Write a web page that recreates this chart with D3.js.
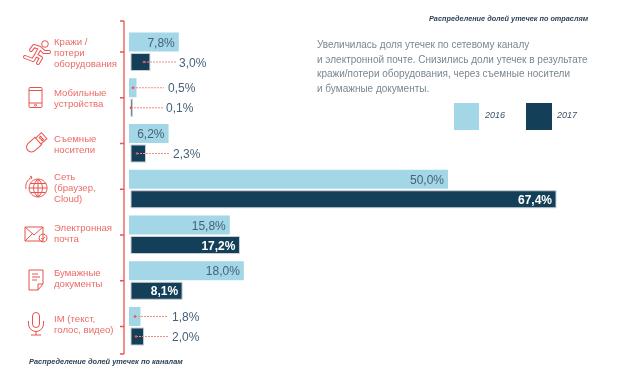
<!DOCTYPE html>
<html><head><meta charset="utf-8">
<script src="https://cdn.jsdelivr.net/npm/d3@7/dist/d3.min.js"></script>
<style>html,body{margin:0;padding:0;background:#fff}svg{display:block;filter:blur(0.4px)}text{font-family:"Liberation Sans",Arial,sans-serif}</style>
</head><body><svg id="c" width="643" height="377"></svg>
<script>
const categories=["Кражи / потери оборудования","Мобильные устройства","Съемные носители","Сеть (браузер, Cloud)","Электронная почта","Бумажные документы","IM (текст, голос, видео)"];
const categoryLines=[["Кражи /","потери","оборудования"],["Мобильные","устройства"],["Съемные","носители"],["Сеть","(браузер,","Cloud)"],["Электронная","почта"],["Бумажные","документы"],["IM (текст,","голос, видео)"]];
const values2016=[7.8,0.5,6.2,50.0,15.8,18.0,1.8];
const values2017=[3.0,0.1,2.3,67.4,17.2,8.1,2.0];
const labels2016=["7,8%","0,5%","6,2%","50,0%","15,8%","18,0%","1,8%"];
const labels2017=["3,0%","0,1%","2,3%","67,4%","17,2%","8,1%","2,0%"];
const years=["2016","2017"];
const noteLines=["Увеличилась доля утечек по сетевому каналу","и электронной почте. Снизились доли утечек в результате","кражи/потери оборудования, через съемные носители","и бумажные документы."];
const titleTop="Распределение долей утечек по отраслям";
const titleBottom="Распределение долей утечек по каналам";

const RED="#e8534f",LABEL="#ea6b66",LIGHT="#a3d6e6",DARK="#133f59",VAL="#46617a";
const svg=d3.select("#c");
const y=d3.scaleBand().domain(categories).range([32.5,32.5+7*45.75]);
const x16=d3.scaleLinear().domain([0,50]).range([129,448]);
const x17=d3.scaleLinear().domain([0,67.4]).range([131,556]);
const h16=19,h17=17,off17=21;

// axis
const ax=svg.append("g");
const axisX=124;
ax.append("line").attr("x1",axisX).attr("x2",axisX).attr("y1",21).attr("y2",354).attr("stroke",RED).attr("stroke-width",1.3);
const tickYs=[21,...categories.map(c=>y(c)+19.5),354];
ax.selectAll(".t").data(tickYs).join("line").attr("x1",axisX-4).attr("x2",axisX).attr("y1",d=>d).attr("y2",d=>d).attr("stroke",RED).attr("stroke-width",1.5);

// bars (the source draws its tiniest bars wider than their value: minimum widths)
svg.selectAll(".b16").data(categories).join("rect").attr("x",x16(0)).attr("y",c=>y(c))
 .attr("width",(c,i)=>Math.max(x16(values2016[i])-x16(0),7.5)).attr("height",h16).attr("fill",LIGHT);
svg.selectAll(".b17").data(categories).join("rect").attr("x",x17(0)).attr("y",c=>y(c)+off17)
 .attr("width",(c,i)=>Math.max(x17(values2017[i])-x17(0),1.5)).attr("height",h17).attr("fill",DARK)
 .attr("stroke","#c9ced3").attr("stroke-width",1);

// value labels
const inside16=[true,false,true,true,true,true,false];
const inside17=[false,false,false,true,true,true,false];
const callout16={1:[133,164,168],6:[135,167,172]};
const callout17={0:[144,176,179],1:[131,163,166],2:[137,169,173],6:[136,168,172]};
function labels(vals,txt,inside,callout,xs,dy,isDark){
 vals.forEach((v,i)=>{
  const cy=y(categories[i])+dy;
  if(inside[i]){
   svg.append("text").attr("x",xs(v)-4).attr("y",cy+4.5).attr("text-anchor","end").attr("font-size",12)
    .attr("fill",isDark?"#fff":VAL).attr("font-weight",isDark?"bold":"normal").text(txt[i]);
  } else {
   const [a,b,t]=callout[i];
   svg.append("line").attr("x1",a).attr("x2",b).attr("y1",cy).attr("y2",cy).attr("stroke","#ee8f8c").attr("stroke-width",1).attr("stroke-dasharray","2 1");
   svg.append("circle").attr("cx",a).attr("cy",cy).attr("r",1.3).attr("fill",RED);
   svg.append("text").attr("x",t).attr("y",cy+4.5).attr("font-size",12).attr("fill",VAL).text(txt[i]);
  }
 });
}
labels(values2016,labels2016,inside16,callout16,x16,9.5,false);
labels(values2017,labels2017,inside17,callout17,x17,off17+8.5,true);

// category labels
const labelOffset=[19.5,20,19.5,18,17.5,17,16.5];
categories.forEach((c,i)=>{
 const ls=categoryLines[i];
 const mid=y(c)+labelOffset[i];
 const t=svg.append("text").attr("font-size",9.6).attr("fill",LABEL);
 ls.forEach((l,j)=>t.append("tspan").attr("x",54).attr("y",mid+(j-(ls.length-1)/2)*11+3.5).text(l));
});

// icons
const runnerBody="M3 -4L-1 3M3 -4L7 0L12 0M3 -4L-3 -6L-6 -2M-1 3L4 6L1 11M-1 3L-4 8L-12 5";
const g=svg.append("g").attr("transform","translate(37,52)");
g.append("path").attr("d",runnerBody).attr("fill","none").attr("stroke",RED).attr("stroke-width",4).attr("stroke-linejoin","round").attr("stroke-linecap","round");
g.append("path").attr("d",runnerBody).attr("fill","none").attr("stroke","#fff").attr("stroke-width",2).attr("stroke-linejoin","round").attr("stroke-linecap","round");
g.append("circle").attr("cx",8).attr("cy",-8).attr("r",3.3).attr("fill","none").attr("stroke",RED);
const icons=[
 {t:"translate(35.5,97.5)",d:"M-5.5 -10h11a1 1 0 0 1 1 1v18a1 1 0 0 1 -1 1h-11a1 1 0 0 1 -1 -1v-18a1 1 0 0 1 1 -1M-6.5 5.5h13M-6.5 -7h13M-1 7.7a1 1 0 1 0 2 0a1 1 0 1 0 -2 0"},
 {t:"translate(36,143) rotate(-42)",d:"M3 -5h-9a5 5 0 0 0 0 10h9zM3 -4h8v8h-8zM6 -2h2v1.5h-2zM6 1h2v1.5h-2z"},
 {t:"translate(38,188)",d:"M0 -9a9 9 0 1 0 .1 0M-9 0h18M0 -9v18M0 -9c-6 5 -6 13 0 18M0 -9c6 5 6 13 0 18M-7.8 -4.5h15.6M-7.8 4.5h15.6M-12 1c-1 -5 1 -9 6 -12M-6 -11l-2 -1M-6 -11l-1 2"},
 {t:"translate(36,234)",d:"M-11 -7h18v14h-18zM-11 -7l9 8l9 -8M-11 7l7 -7M7 0a4 4 0 1 0 .1 0M5.3 4l1.3 1.4l2.2 -2.4"},
 {t:"translate(36,280)",d:"M-7 -10h14v14l-5 6h-9zM7 4h-5v6M-4 -6h6M-4 -3h8M-4 0h5"},
 {t:"translate(36,324)",d:"M-3.5 -8a3.5 3.5 0 0 1 7 0v8a3.5 3.5 0 0 1 -7 0zM-7.5 -3v3a7.5 7.5 0 0 0 15 0v-3M0 7.5v3.5M-5 11h10"}
];
svg.selectAll(".icon").data(icons).join("path").attr("transform",d=>d.t).attr("d",d=>d.d)
 .attr("fill","none").attr("stroke",RED).attr("stroke-width",1);

// titles
svg.append("text").attr("x",429).attr("y",21).attr("font-size",7.3).attr("font-style","italic").attr("font-weight","bold").attr("fill","#2d4256").text(titleTop);
svg.append("text").attr("x",29).attr("y",363.5).attr("font-size",7.4).attr("font-style","italic").attr("font-weight","bold").attr("fill","#2d4256").text(titleBottom);

// note
const n=svg.append("text").attr("font-size",10).attr("fill","#7a8791");
noteLines.forEach((l,i)=>n.append("tspan").attr("x",317).attr("y",48+i*14.5).text(l));

// legend
const lg=d3.scaleOrdinal().domain(years).range([454,526]);
const lc=d3.scaleOrdinal().domain(years).range([LIGHT,DARK]);
svg.selectAll(".lr").data(years).join("rect").attr("x",d=>lg(d)).attr("y",103).attr("width",d=>d=="2016"?25:26).attr("height",27).attr("fill",d=>lc(d));
svg.selectAll(".lt").data(years).join("text").attr("x",d=>lg(d)+31).attr("y",118).attr("font-size",9).attr("font-style","italic").attr("fill","#3a4f63").text(d=>d);
</script></body></html>
